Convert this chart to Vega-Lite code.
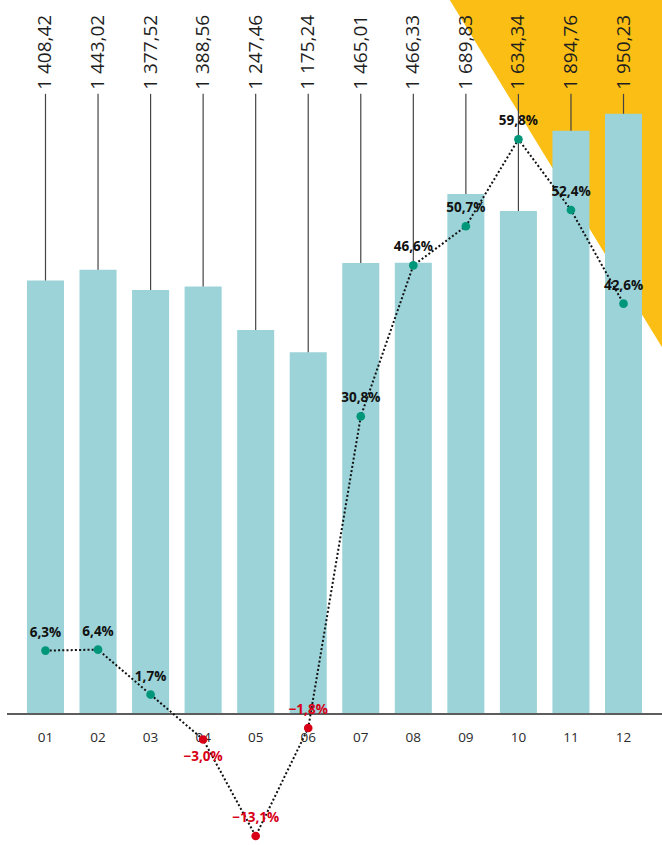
{
  "$schema": "https://vega.github.io/schema/vega-lite/v6.json",
  "width": 655,
  "height": 845,
  "autosize": {"type": "none"},
  "padding": {"left": 7, "top": 0, "right": 0, "bottom": 0},
  "background": "#ffffff",
  "config": {
    "view": {"stroke": null},
    "locale": {"number": {"decimal": ",", "thousands": " ", "grouping": [3], "currency": ["", " €"]}},
    "text": {"font": "Open Sans"}
  },
  "datasets": {
    "months": [
      {"month": "01", "value": 1408.42, "pct": 0.063},
      {"month": "02", "value": 1443.02, "pct": 0.064},
      {"month": "03", "value": 1377.52, "pct": 0.017},
      {"month": "04", "value": 1388.56, "pct": -0.030},
      {"month": "05", "value": 1247.46, "pct": -0.131},
      {"month": "06", "value": 1175.24, "pct": -0.018},
      {"month": "07", "value": 1465.01, "pct": 0.308},
      {"month": "08", "value": 1466.33, "pct": 0.466},
      {"month": "09", "value": 1689.83, "pct": 0.507},
      {"month": "10", "value": 1634.34, "pct": 0.598},
      {"month": "11", "value": 1894.76, "pct": 0.524},
      {"month": "12", "value": 1950.23, "pct": 0.426}
    ],
    "shape": [
      {"u": 0.676, "top": 1, "bottom": 1},
      {"u": 1, "top": 1, "bottom": 0.589}
    ]
  },
  "layer": [
    {
      "data": {"name": "shape"},
      "mark": {"type": "area", "color": "#FBBE14", "opacity": 1},
      "encoding": {
        "x": {"field": "u", "type": "quantitative", "scale": {"domain": [0, 1], "nice": false, "zero": false}, "axis": null},
        "y": {"field": "top", "type": "quantitative", "scale": {"domain": [0, 1], "nice": false}, "axis": null},
        "y2": {"field": "bottom"}
      }
    },
    {
      "data": {"name": "months"},
      "layer": [
        {
          "layer": [
            {
              "mark": {"type": "bar", "color": "#9BD3D8"},
              "encoding": {
                "x": {
                  "field": "month", "type": "nominal",
                  "scale": {"paddingInner": 0.295, "paddingOuter": 0.38},
                  "axis": {
                    "title": null, "orient": "bottom", "offset": -131, "domain": false,
                    "ticks": false, "tickSize": 0, "labelPadding": 16, "labelAngle": 0,
                    "labelFont": "Open Sans", "labelFontSize": 13.5, "labelFontWeight": "normal",
                    "labelColor": "#2a2a2a", "grid": false
                  }
                },
                "y": {"field": "value", "type": "quantitative", "scale": {"domain": [-426, 2320], "nice": false}, "axis": null}
              }
            },
            {
              "mark": {"type": "rule", "color": "#5e5e5e", "strokeWidth": 1.5},
              "encoding": {"y": {"datum": 0}}
            },
            {
              "mark": {"type": "rule", "color": "#444444", "strokeWidth": 1.2},
              "encoding": {
                "x": {"field": "month", "type": "nominal"},
                "y": {"field": "value", "type": "quantitative"},
                "y2": {"datum": 2015}
              }
            },
            {
              "mark": {"type": "text", "angle": 270, "align": "left", "baseline": "middle", "font": "Open Sans", "fontSize": 19, "fontWeight": "normal", "color": "#1e1e1e"},
              "encoding": {
                "x": {"field": "month", "type": "nominal"},
                "y": {"datum": 2028},
                "text": {"field": "value", "type": "quantitative", "format": ",.2f"}
              }
            }
          ]
        },
        {
          "layer": [
            {
              "mark": {"type": "line", "color": "#111111", "strokeWidth": 2, "strokeDash": [2, 2.2]},
              "encoding": {
                "x": {"field": "month", "type": "nominal"},
                "y": {"field": "pct", "type": "quantitative", "scale": {"domain": [-0.1404, 0.7437], "nice": false}, "axis": null}
              }
            },
            {
              "mark": {"type": "circle", "size": 75, "opacity": 1},
              "encoding": {
                "x": {"field": "month", "type": "nominal"},
                "y": {"field": "pct", "type": "quantitative"},
                "color": {"condition": {"test": "datum.pct < 0", "value": "#D70016"}, "value": "#00967A"}
              }
            },
            {
              "transform": [{"filter": "datum.month != '04'"}],
              "mark": {"type": "text", "dy": -18, "baseline": "middle", "align": "center", "font": "Open Sans", "fontSize": 13.5, "fontWeight": "bold"},
              "encoding": {
                "x": {"field": "month", "type": "nominal"},
                "y": {"field": "pct", "type": "quantitative"},
                "text": {"field": "pct", "type": "quantitative", "format": ".1%"},
                "color": {"condition": {"test": "datum.pct < 0", "value": "#D70016"}, "value": "#111111"}
              }
            },
            {
              "transform": [{"filter": "datum.month == '04'"}],
              "mark": {"type": "text", "dy": 18, "baseline": "middle", "align": "center", "font": "Open Sans", "fontSize": 13.5, "fontWeight": "bold"},
              "encoding": {
                "x": {"field": "month", "type": "nominal"},
                "y": {"field": "pct", "type": "quantitative"},
                "text": {"field": "pct", "type": "quantitative", "format": ".1%"},
                "color": {"condition": {"test": "datum.pct < 0", "value": "#D70016"}, "value": "#111111"}
              }
            }
          ]
        }
      ],
      "resolve": {"scale": {"y": "independent"}, "axis": {"y": "independent"}}
    }
  ],
  "resolve": {"scale": {"x": "independent", "y": "independent"}}
}
